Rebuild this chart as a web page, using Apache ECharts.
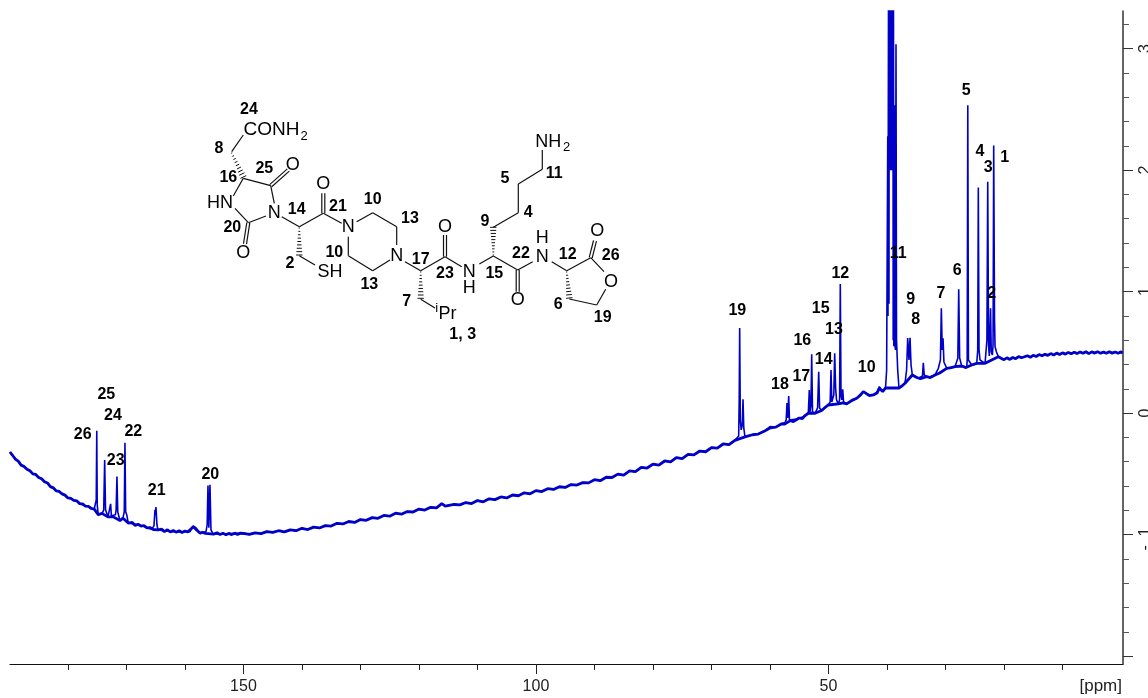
<!DOCTYPE html>
<html>
<head>
<meta charset="utf-8">
<style>html,body{margin:0;padding:0;background:#fff}#c{width:1148px;height:698px}</style>
<script src="https://cdn.jsdelivr.net/npm/echarts@6/dist/echarts.min.js"></script>
</head>
<body>
<div id="c"></div>
<script>
// ---- data: [ppm, intensity] ----
const baselineLeft = [[189.9,-0.32],[189.5,-0.345],[189,-0.378],[188.5,-0.395],[188,-0.428],[187.5,-0.44],[187,-0.462],[186.5,-0.475],[186,-0.5],[185.5,-0.505],[185,-0.53],[184.5,-0.54],[184,-0.565],[183.5,-0.575],[183,-0.605],[182.5,-0.615],[182,-0.64],[181.5,-0.645],[181,-0.665],[180.5,-0.675],[180,-0.698],[179.5,-0.702],[179,-0.718],[178.5,-0.722],[178,-0.745],[177.5,-0.748],[177,-0.765],[176.5,-0.768],[176,-0.785],[175.5,-0.79]];
const carbonylPeaks = [[175.29,-0.796],[175.16,-0.714],[175.07,-0.146],[174.99,-0.755],[174.82,-0.837],[174.18,-0.829],[173.88,-0.796],[173.72,-0.385],[173.57,-0.796],[173.16,-0.854],[172.82,-0.845],[172.7,-0.747],[172.58,-0.845],[172.25,-0.854],[171.88,-0.837],[171.76,-0.796],[171.62,-0.522],[171.48,-0.813],[171.11,-0.884],[170.59,-0.862],[170.37,-0.813],[170.25,-0.243],[170.13,-0.813],[169.94,-0.837],[169.69,-0.905],[167.69,-0.922],[165.69,-0.955],[165.29,-0.928],[165.12,-0.796],[165.04,-0.837],[164.95,-0.774],[164.78,-0.919],[164.61,-0.961],[164.27,-0.966],[162.5,-0.975],[160.5,-0.978],[159.14,-0.975],[158.58,-0.928],[158.12,-0.944],[157.43,-0.988],[156.41,-0.977],[156.2,-0.919],[156.06,-0.596],[155.91,-0.944],[155.72,-0.59],[155.55,-0.961],[155.16,-0.996]];
const baselineCarbonyl = [[175.29,-0.796],[174.82,-0.837],[174.2,-0.825],[173.16,-0.854],[172.25,-0.854],[171.11,-0.884],[170.59,-0.865],[169.69,-0.905],[169,-0.9],[168.5,-0.925],[168,-0.915],[167.5,-0.93],[167,-0.925],[166.5,-0.945],[166,-0.942],[165.4,-0.958],[164.6,-0.961],[164,-0.955],[163.5,-0.975],[163,-0.96],[162.5,-0.978],[162,-0.965],[161.5,-0.98],[161,-0.968],[160.5,-0.982],[160,-0.97],[159.5,-0.978],[158.58,-0.935],[157.4,-0.988],[157,-0.98],[156.5,-0.99],[155.1,-0.996],[154.5,-0.985],[154,-1],[153.5,-0.988],[153,-1.002],[152.5,-0.99],[152,-1],[151.5,-0.988],[151,-0.998],[150.5,-0.988]];
const baselineMiddle = [[150,-0.99],[149,-0.998],[148,-0.985],[147,-0.992],[146,-0.975],[145,-0.982],[144,-0.968],[143,-0.978],[142,-0.961],[141,-0.968],[140,-0.948],[139,-0.958],[138,-0.938],[137,-0.945],[136,-0.926],[135,-0.93],[134,-0.907],[133,-0.912],[132,-0.892],[131,-0.9],[130,-0.876],[129,-0.882],[128,-0.86],[127,-0.866],[126,-0.842],[125,-0.848],[124,-0.824],[123,-0.832],[122,-0.81],[121,-0.814],[120,-0.79],[119,-0.798],[118,-0.775],[117,-0.78],[116.1,-0.745],[115.5,-0.765],[114,-0.752],[113,-0.755],[112,-0.736],[111,-0.744],[110,-0.72],[109,-0.73],[108,-0.705],[107,-0.712],[106,-0.69],[105,-0.698],[104,-0.674],[103,-0.68],[102,-0.656],[101,-0.664],[100,-0.638],[99,-0.646],[98,-0.622],[97,-0.628],[96,-0.606],[95,-0.612],[94,-0.588],[93,-0.592],[92,-0.572],[91,-0.574],[90,-0.548],[89,-0.556],[88,-0.528],[87,-0.53],[86,-0.502],[85,-0.51],[84,-0.476],[83,-0.482],[82,-0.446],[81,-0.452],[80,-0.42],[79,-0.428],[78,-0.394],[77,-0.402],[76,-0.366],[75,-0.374],[74,-0.34],[73,-0.344],[72,-0.312],[71,-0.318],[70,-0.284],[69,-0.288],[68,-0.254],[67,-0.26],[66,-0.224],[65.7,-0.216]];
const methinePeaks = [[65.35,-0.188],[65.26,0.109],[65.18,0.701],[65.07,-0.056],[64.92,-0.138],[64.73,-0.097],[64.61,0.114],[64.48,-0.122],[64.27,-0.196],[63.98,-0.193],[63,-0.178],[62,-0.172],[61,-0.15],[59.99,-0.111],[59,-0.115],[58,-0.088],[57.43,-0.078],[57.23,-0.056],[57.09,0.084],[56.97,-0.04],[56.8,0.141],[56.67,-0.056],[55.5,-0.048],[54.3,-0.029],[53.45,-0.001],[53.28,0.191],[53.16,0.01],[52.99,0.067],[52.87,0.484],[52.73,0.01],[52.3,-0.001],[51.86,0.043],[51.67,0.341],[51.52,0.043],[51.17,0.021],[50.03,0.067],[49.71,0.092],[49.57,0.355],[49.43,0.092],[49.28,0.081],[49.09,0.15],[48.94,0.493],[48.78,0.207],[48.63,0.109],[48.32,0.076],[48.1,0.109],[47.98,1.062],[47.86,0.15],[47.71,0.109],[47.57,0.197],[47.42,0.092],[46.89,0.076],[45.17,0.122],[44.61,0.15],[44.05,0.177],[43.24,0.15],[42.33,0.15],[41.7,0.174],[41.31,0.218],[40.73,0.177],[40.25,0.207]];
const solventPeaks = [[40.06,0.355],[39.87,2.28],[39.83,0.8],[39.73,3.8],[39.66,0.9],[39.62,3.8],[39.58,2],[39.54,3.8],[39.5,2],[39.46,3.8],[39.42,2],[39.38,3.8],[39.34,2],[39.3,3.8],[39.26,2],[39.22,3.8],[39.18,2],[39.14,3.8],[39.1,2],[39.06,3.8],[39.02,2],[38.98,3.8],[38.94,0.6],[38.9,3.8],[38.83,0.55],[38.75,2.534],[38.65,0.561],[38.55,0.52],[38.46,3.036],[38.37,0.602],[38.17,0.355],[37.95,0.207]];
const aliphaticPeaks = [[36.92,0.246],[36.65,0.355],[36.46,0.618],[36.24,0.437],[36.06,0.621],[35.89,0.396],[35.67,0.314],[34.64,0.287],[33.93,0.306],[33.79,0.415],[33.64,0.314],[33.21,0.3],[32.65,0.3],[31.79,0.314],[31.22,0.369],[30.87,0.437],[30.71,0.863],[30.56,0.52],[30.42,0.616],[30.27,0.421],[29.79,0.369],[28.37,0.382],[27.89,0.454],[27.74,1.019],[27.58,0.454],[27.23,0.388],[26.37,0.377],[26.29,0.437],[26.19,2.535],[26.08,0.437],[25.52,0.396],[24.66,0.41],[24.49,0.52],[24.39,1.858],[24.27,0.52],[24.1,0.437],[23.24,0.41],[22.92,0.602],[22.78,1.904],[22.64,0.561],[22.51,0.47],[22.3,0.863],[22.18,0.503],[21.99,0.479],[21.87,0.561],[21.76,2.203],[21.62,0.766],[21.53,0.547],[21.28,0.503],[20.97,0.465],[20.68,0.451]];
const baselineAliphatic = [[64.27,-0.196],[64,-0.19],[63,-0.178],[62,-0.172],[61,-0.15],[60,-0.122],[59,-0.115],[58,-0.088],[57.5,-0.09],[56.5,-0.062],[56,-0.07],[55,-0.04],[54.5,-0.046],[54,-0.02],[53.45,-0.001],[52.3,-0.001],[51.17,0.021],[50.5,0.05],[50.03,0.067],[48.32,0.076],[47.5,0.085],[46.89,0.076],[46,0.105],[45.17,0.122],[44.5,0.15],[44.05,0.177],[43.5,0.16],[43,0.145],[42.33,0.15],[41.7,0.165],[41.31,0.205],[40.73,0.177],[40.25,0.207],[37.95,0.207],[37.4,0.225],[36.92,0.246],[35.67,0.314],[35,0.295],[34.3,0.283],[33.21,0.3],[32.6,0.292],[31.79,0.314],[31,0.33],[29.79,0.369],[29,0.375],[28.37,0.382],[27.23,0.388],[26.5,0.375],[25.52,0.396],[24.66,0.41],[23.24,0.41],[20.97,0.465]];
const baselineUpfield = [[20.5,0.452],[20,0.44],[19.5,0.455],[19,0.442],[18.5,0.458],[18,0.448],[17.5,0.466],[17,0.456],[16,0.472],[15.5,0.46],[15,0.476],[14.5,0.466],[14,0.482],[13.5,0.472],[13,0.484],[12.5,0.476],[12,0.49],[11.5,0.478],[11,0.494],[10.5,0.482],[10,0.496],[9.5,0.486],[9,0.5],[8.5,0.488],[8,0.502],[7.5,0.49],[7,0.504],[6.5,0.492],[6,0.505],[5.5,0.49],[5,0.504],[4.5,0.494],[4,0.506],[3.5,0.492],[3,0.504],[2.5,0.492],[2,0.505],[1.5,0.494],[1,0.503],[0.5,0.493],[0,0.504],[-0.26,0.495]];

const xMinorTicks = [10,20,30,40,60,70,80,90,110,120,130,140,160,170,180];
const xMajorTicks = [50,100,150];
const yMinorTicks = [-1.8,-1.6,-1.4,-1.2,-0.8,-0.6,-0.4,-0.2,0.2,0.4,0.6,0.8,1.2,1.4,1.6,1.8,2.2,2.4,2.6,2.8,3.2];
const yMajorTicks = [-2,-1,0,1,2,3];
const yLabelValues = [-1,0,1,2,3];

const peakLabels = ['26','25','24','23','22','21','20','19','18','17','16','15','14','13','12','10','11','9','8','7','6','5','4','3','2','1'];
const peakLabelAnchors = [[82.7,435],[106.3,395],[113,416],[115.7,461],[133.3,431.7],[156.7,490.7],[210.3,474.3],[737.3,310.7],[780,384.3],[801.3,376.7],[802.3,340.7],[820.7,309],[823.7,360],[834,330],[840.3,274],[866.7,368],[898.3,254],[910.7,300],[915.7,320],[941,294],[957.3,271],[966.3,91],[980,152],[988.3,168],[991.7,294],[1004.7,157.7]];

// ---- annotation: molecular drawing (layout, page pixels) ----
const atomLabels = [['O',292.7,165],['HN',220,202.7],['N',274.3,212.7],['O',243.3,253.3],['O',323.3,184.3],['N',348.3,226.7],['SH',330,271.7],['N',396.7,255.7],['O',445,226.7],['N',469.3,272.3],['H',469.3,288.3],['Pr',447.5,314],['NH',548.3,141.7],['H',542.3,238.3],['N',542.3,256.7],['O',517.7,300],['O',597.3,231],['O',611,281.7]];
const atomLabelsWide = [['CONH',271.5,129.3]];
const smallLabels = [['2',304,136],['i',436.7,308],['2',566.5,147.3]];
const atomIndexLabels = [['24',249,110],['8',219,148.3],['25',264.3,169],['16',228.3,177.3],['14',296.7,209.3],['21',338,206.7],['10',372.7,200],['13',410,219],['20',232.3,227.3],['10',334.3,252.3],['2',290,263.3],['17',420.7,259.3],['23',445,274],['13',369.3,285],['7',406.7,301.7],['1, 3',462.7,334.3],['5',505,178.3],['11',554.3,173.3],['4',528.3,212.7],['9',485,221.7],['22',521,253.3],['12',567.7,254.3],['26',610.7,255.7],['15',494.3,274],['6',558.3,304.3],['19',602.7,317.7]];
const singleBonds = [[243.3,135,231.7,151.7],[243.3,178.3,270.7,185.7],[270.7,185.7,274.3,203.3],[243.3,178.3,233.3,196],[235,208.3,248.3,222.7],[248.3,222.7,266,216],[281.7,216.7,299.3,226.7],[299.3,226.7,323.3,213.3],[323.3,213.3,341.7,223.3],[299.3,255.7,315,265],[356.7,221.7,372.7,212.7],[372.7,212.7,396.7,226.7],[396.7,226.7,396.7,245],[390,260,372.7,270.7],[372.7,270.7,348.3,255.7],[348.3,255.7,348.3,236.7],[405,261.7,420.7,270.7],[420.7,270.7,445,256.7],[445,256.7,461.7,266.7],[420.7,299.3,435,308],[479.3,264,493.3,256],[493.3,256,517.7,270],[517.7,270,532.7,261.7],[551.7,261.7,566.7,270.7],[566.7,270.7,590.7,257.7],[590.7,257.7,604,271.7],[605.7,289.3,596.7,305],[596.7,305,569.3,299],[493.3,227.3,518.3,212.7],[518.3,212.7,518.3,184],[518.3,184,542.3,169.3],[542.3,169.3,542.3,150]];
const doubleBonds = [[270.7,185.7,288.3,170],[248.3,222.7,245,244],[323.3,213.3,323.3,193.3],[445,256.7,445,235],[517.7,270,517.7,291.7],[590.7,257.7,595,240.7]];
const hashedBonds = [[231.7,153,243.3,177],[299.3,228,299.3,255],[420.7,272,420.7,298.3],[566.7,272,569.3,298],[493.3,255,493.3,227.3]];

const ink = '#111';
const graphicEls = [];
function line(x1,y1,x2,y2,w){graphicEls.push({type:'line',z:20,silent:true,shape:{x1,y1,x2,y2},style:{stroke:ink,lineWidth:w||1.2}});}
function label(t,cx,cy,size,weight){graphicEls.push({type:'text',z:21,silent:true,x:cx,y:cy,style:{text:t,fill:'#000',font:(weight||'normal')+' '+size+'px "Liberation Sans", Arial, sans-serif',align:'center',verticalAlign:'middle'}});}
singleBonds.forEach(b=>line(b[0],b[1],b[2],b[3]));
doubleBonds.forEach(b=>{
  const dx=b[2]-b[0],dy=b[3]-b[1],n=Math.hypot(dx,dy),ox=-dy/n*1.5,oy=dx/n*1.5;
  line(b[0]+ox,b[1]+oy,b[2]+ox,b[3]+oy);
  line(b[0]-ox,b[1]-oy,b[2]-ox,b[3]-oy);
});
hashedBonds.forEach(b=>{
  const dx=b[2]-b[0],dy=b[3]-b[1],n=Math.hypot(dx,dy),ux=-dy/n,uy=dx/n,count=Math.round(n/3.2);
  for(let i=0;i<=count;i++){
    const t=i/count,h=0.6+t*2.6,x=b[0]+dx*t,y=b[1]+dy*t;
    line(x-ux*h,y-uy*h,x+ux*h,y+uy*h,1);
  }
});
atomLabels.forEach(a=>label(a[0],a[1],a[2],18));
atomLabelsWide.forEach(a=>label(a[0],a[1],a[2],19));
smallLabels.forEach(a=>label(a[0],a[1],a[2],13));
atomIndexLabels.forEach(a=>label(a[0],a[1],a[2],16,'bold'));
peakLabels.forEach((t,i)=>label(t,peakLabelAnchors[i][0],peakLabelAnchors[i][1],16,'bold'));
graphicEls.push({type:'text',z:21,silent:true,x:1122,y:686,style:{text:'[ppm]',fill:'#222',font:'17px "Liberation Sans", Arial, sans-serif',align:'right',verticalAlign:'middle'}});

const axisInk = '#333';
const font = {fontFamily:'"Liberation Sans", Arial, sans-serif',fontSize:16,color:'#222'};
const yLabelText = v => v < 0 ? '-  ' + Math.abs(v) + '  ' : String(v);
const chart = echarts.init(document.getElementById('c'),null,{renderer:'canvas'});
chart.setOption({
  animation:false,
  backgroundColor:'#fff',
  grid:{left:10,right:25,top:11,bottom:34,outerBoundsMode:'none',containLabel:false},
  xAxis:[
    {type:'value',inverse:true,min:-0.34,max:189.9,position:'bottom',splitLine:{show:false},
     axisLine:{show:true,onZero:false,lineStyle:{color:'#111',width:1.2}},
     axisTick:{show:true,length:6,customValues:xMinorTicks,lineStyle:{color:'#222',width:1}},
     axisLabel:{show:false}},
    {type:'value',inverse:true,min:-0.34,max:189.9,position:'bottom',splitLine:{show:false},
     axisLine:{show:false,onZero:false},
     axisTick:{show:true,length:10,customValues:xMajorTicks,lineStyle:{color:'#222',width:1}},
     axisLabel:{show:true,margin:15,customValues:xMajorTicks,hideOverlap:false,showMinLabel:true,showMaxLabel:true,...font}}
  ],
  yAxis:[
    {type:'value',min:-2.065,max:3.31,position:'right',splitLine:{show:false},
     axisLine:{show:true,onZero:false,lineStyle:{color:axisInk,width:1.5}},
     axisTick:{show:true,length:6,customValues:yMinorTicks,lineStyle:{color:'#555',width:1}},
     axisLabel:{show:false}},
    {type:'value',min:-2.065,max:3.31,position:'right',splitLine:{show:false},
     axisLine:{show:false,onZero:false},
     axisTick:{show:true,length:10,customValues:yMajorTicks,lineStyle:{color:'#333',width:1}},
     axisLabel:{show:true,margin:15,rotate:90,customValues:yLabelValues,formatter:yLabelText,...font}}
  ],
  series:[
    {type:'line',name:'baseline',data:[...baselineLeft,...baselineCarbonyl,...baselineMiddle,...baselineAliphatic,...baselineUpfield],showSymbol:false,symbol:'none',z:2,clip:true,
     lineStyle:{color:'#0000c8',width:2.8},silent:true},
    {type:'line',name:'spectrum',data:[...baselineLeft,...carbonylPeaks,...baselineMiddle,...methinePeaks,...solventPeaks,...aliphaticPeaks,...baselineUpfield],showSymbol:false,symbol:'none',z:3,clip:true,
     lineStyle:{color:'#0000c8',width:1.6},silent:true}
  ],
  graphic:graphicEls
});
</script>
</body>
</html>
